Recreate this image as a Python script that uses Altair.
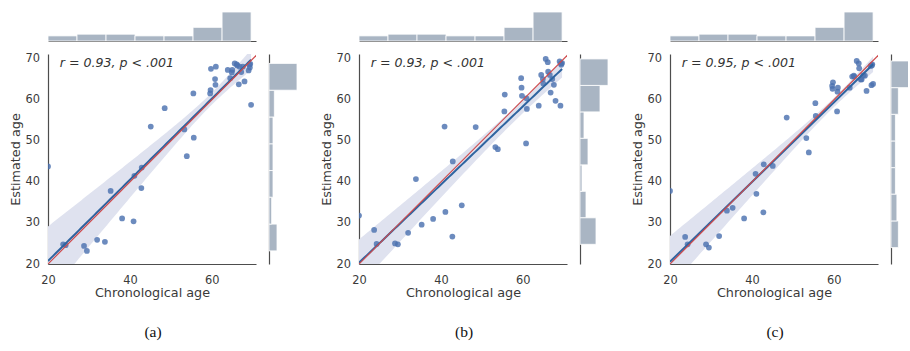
import numpy as np
import pandas as pd
import altair as alt

# ---- data ----
chrono = [20.0, 23.7, 24.3, 28.8, 29.5, 32.0, 33.9, 35.3, 38.1, 40.9, 41.1,
          42.8, 42.9, 45.1, 48.5, 53.3, 53.9, 55.5, 55.6,
          59.6, 59.7, 59.8, 60.8, 60.9, 61.0,
          63.9, 64.5, 65.0, 64.9, 65.6, 66.1, 66.2, 66.6, 66.8, 67.2, 67.6,
          68.0, 69.2, 69.3, 69.4, 69.6, 69.0]

est_a = [43.8, 24.8, 24.6, 24.4, 23.2, 25.9, 25.4, 37.8, 31.1, 30.4, 41.5,
         38.5, 43.5, 53.5, 58.0, 52.8, 46.3, 61.6, 50.8,
         61.6, 62.4, 67.6, 65.1, 63.7, 68.1,
         67.3, 65.3, 67.3, 66.7, 68.9, 68.7, 68.4, 63.8, 68.1, 66.8, 68.1,
         64.5, 68.6, 67.9, 68.8, 58.8, 67.2]

est_b = [31.8, 28.3, 24.9, 25.0, 24.8, 27.6, 40.7, 29.6, 31.0, 53.5, 32.7,
         26.7, 45.0, 34.3, 53.4, 48.5, 48.0, 57.2, 61.3,
         65.3, 63.0, 61.0, 49.4, 60.4, 57.8,
         58.6, 66.1, 64.0, 65.1, 70.0, 69.2, 66.9, 66.1, 61.8, 65.1, 63.7,
         59.8, 58.6, 68.9, 68.6, 69.0, 69.4]

est_c = [37.8, 26.6, 24.8, 24.8, 24.0, 26.8, 33.0, 33.7, 31.1, 42.0, 37.1,
         32.6, 44.3, 43.9, 55.7, 50.7, 47.2, 59.2, 56.1,
         63.4, 62.7, 64.3, 57.2, 62.0, 63.0,
         63.0, 65.7, 65.7, 65.9, 69.5, 68.9, 67.7, 65.0, 65.0, 66.0, 65.9,
         62.2, 63.6, 68.4, 68.7, 63.9, 68.3]

estimates = [est_a, est_b, est_c]
stat_labels = ["r = 0.93, p < .001", "r = 0.93, p < .001", "r = 0.95, p < .001"]
captions = ["(a)", "(b)", "(c)"]
x_ticks = [20, 40, 60]
y_ticks = [20, 30, 40, 50, 60, 70]
n_bins = 7

# ---- style ----
FONT = "DejaVu Sans"
TEXT = "#3a3a3a"
POINT = "#4c72b0"
REG = "#2f64a0"
BAND = "#dfe2ef"
IDENT = "#cf4a4c"
HIST = "#a9b5c3"
SPINE = "#4d4d4d"

JW, JH = 208, 210
TOP_H = 29
RIGHT_W = [77, 77, 17]
RIGHT_RANGE = 28

xs = alt.Scale(domain=[20, 70.8], nice=False, zero=False)
ys = alt.Scale(domain=[20, 71.2], nice=False, zero=False)
x_axis = alt.Axis(values=x_ticks, title="Chronological age", labelFlush=False,
                  labelPadding=10, titlePadding=1)
y_axis = alt.Axis(values=y_ticks, title="Estimated age", labelPadding=8.5,
                  titlePadding=3)


def reg_band(x, y):
    x = np.asarray(x, float)
    y = np.asarray(y, float)
    X = np.column_stack([np.ones_like(x), x])
    bread = np.linalg.inv(X.T @ X)
    beta = bread @ X.T @ y
    e = y - X @ beta
    h = np.einsum("ij,jk,ik->i", X, bread, X)
    meat = X.T @ (X * (e ** 2 / (1 - h) ** 2)[:, None])
    cov = bread @ meat @ bread
    xg = np.linspace(x.min(), x.max(), 80)
    G = np.column_stack([np.ones_like(xg), xg])
    fit = G @ beta
    se = np.sqrt(np.einsum("ij,jk,ik->i", G, cov, G))
    return pd.DataFrame({"x": xg, "fit": fit, "lo": fit - 1.96 * se,
                         "hi": fit + 1.96 * se})


def joint(i):
    df = pd.DataFrame({"x": chrono, "y": estimates[i]})
    bd = reg_band(chrono, estimates[i])
    ident = pd.DataFrame({"x": [20, 71.2], "y": [20, 71.2]})
    band = alt.Chart(bd).mark_area(color=BAND, clip=True).encode(
        x=alt.X("x:Q", scale=xs, axis=x_axis),
        y=alt.Y("lo:Q", scale=ys, axis=y_axis),
        y2="hi:Q")
    pts = alt.Chart(df).mark_circle(size=33, color=POINT, opacity=0.82,
                                    clip=True).encode(
        x=alt.X("x:Q", scale=xs, axis=x_axis),
        y=alt.Y("y:Q", scale=ys, axis=y_axis))
    line = alt.Chart(bd).mark_line(color=REG, strokeWidth=2, clip=True).encode(
        x=alt.X("x:Q", scale=xs, axis=x_axis),
        y=alt.Y("fit:Q", scale=ys, axis=y_axis))
    idl = alt.Chart(ident).mark_line(color=IDENT, strokeWidth=1.2,
                                     clip=True).encode(
        x=alt.X("x:Q", scale=xs, axis=x_axis),
        y=alt.Y("y:Q", scale=ys, axis=y_axis))
    lab = alt.Chart(pd.DataFrame({"t": [stat_labels[i]]})).mark_text(
        align="left", baseline="middle", font=FONT, fontSize=12.6,
        fontStyle="italic", color="#333333").encode(
        x=alt.value(11.7), y=alt.value(8.5), text="t:N")
    cap = alt.Chart(pd.DataFrame({"t": [captions[i]]})).mark_text(
        align="center", baseline="middle", font="Liberation Serif",
        fontSize=15.5, color="#111111").encode(
        x=alt.value(105), y=alt.value(278), text="t:N")
    return alt.layer(band, pts, line, idl, lab, cap).properties(width=JW, height=JH)


def top_hist():
    df = pd.DataFrame({"x": chrono})
    lo, hi = min(chrono), max(chrono)
    return alt.Chart(df).transform_bin(
        as_=["bx", "bx_end"], field="x",
        bin=alt.BinParams(extent=[lo, hi], step=(hi - lo) / n_bins, nice=False)
    ).transform_aggregate(n="count()", groupby=["bx", "bx_end"]).mark_rect(
        color=HIST, stroke="white", strokeWidth=0.8).encode(
        x=alt.X("bx:Q", scale=xs,
                axis=alt.Axis(labels=False, ticks=False, title=None, grid=False)),
        x2="bx_end:Q",
        y=alt.Y("n:Q", scale=alt.Scale(nice=False, zero=True), axis=None),
        y2=alt.datum(0)
    ).properties(width=JW, height=TOP_H)


def right_hist(i):
    vals = estimates[i]
    df = pd.DataFrame({"y": vals})
    lo, hi = min(vals), max(vals)
    return alt.Chart(df).transform_bin(
        as_=["by", "by_end"], field="y",
        bin=alt.BinParams(extent=[lo, hi], step=(hi - lo) / n_bins, nice=False)
    ).transform_aggregate(n="count()", groupby=["by", "by_end"]).mark_rect(
        color=HIST, stroke="white", strokeWidth=0.8, clip=True).encode(
        y=alt.Y("by:Q", scale=ys,
                axis=alt.Axis(labels=False, ticks=False, title=None, grid=False)),
        y2="by_end:Q",
        x=alt.X("n:Q", scale=alt.Scale(nice=False, zero=True,
                                       range=[0, RIGHT_RANGE]), axis=None),
        x2=alt.datum(0)
    ).properties(width=RIGHT_W[i], height=JH)


def blank(w):
    return alt.Chart(pd.DataFrame({"v": [0]})).mark_point(opacity=0).encode(
        x=alt.value(0), y=alt.value(0)).properties(width=w, height=TOP_H)


cells = [top_hist(), blank(RIGHT_W[0]), top_hist(), blank(RIGHT_W[1]),
         top_hist(), blank(RIGHT_W[2]),
         joint(0), right_hist(0), joint(1), right_hist(1), joint(2), right_hist(2)]

chart = alt.concat(*cells, columns=6, spacing=13, bounds="flush",
                   align="each").properties(
    padding={"left": 9, "top": 9, "right": 0, "bottom": 0},
    background="white"
).configure_view(strokeWidth=0).configure_axis(
    domainColor=SPINE, domainWidth=1.2, ticks=False, grid=False,
    labelFont=FONT, labelFontSize=11.4, labelColor=TEXT,
    titleFont=FONT, titleFontSize=12.8, titleFontWeight="normal",
    titleColor=TEXT)

chart.save("out.html", embed_options={"renderer": "svg", "actions": False})
